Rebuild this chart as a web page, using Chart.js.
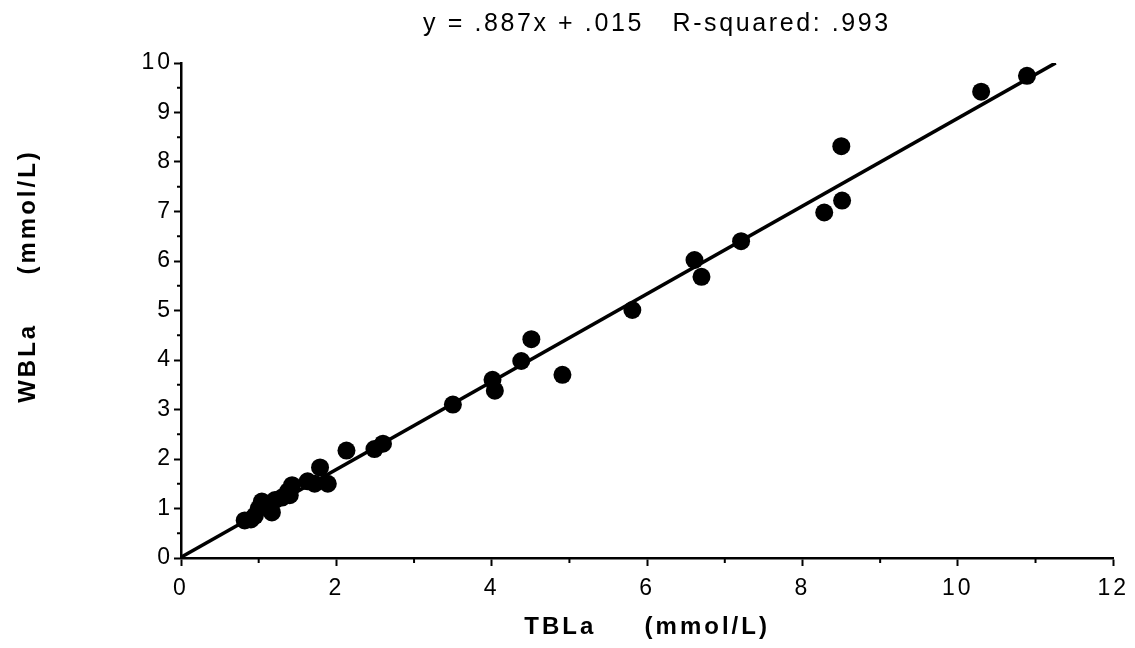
<!DOCTYPE html>
<html>
<head>
<meta charset="utf-8">
<script src="https://cdn.jsdelivr.net/npm/chart.js@4/dist/chart.umd.min.js"></script>
<style>
  html, body { margin: 0; padding: 0; background: #fff; }
  #wrap { width: 1135px; height: 648px; }
</style>
</head>
<body>
<div id="wrap"><canvas id="c" width="1135" height="648"></canvas></div>
<script>
// ---- data ----
const tbla = [0.82, 0.90, 0.95, 1.00, 1.04, 1.10, 1.17, 1.21, 1.30, 1.38, 1.43, 1.40, 1.63, 1.72, 1.79, 1.89,
              2.13, 2.49, 2.60, 3.50, 4.01, 4.04, 4.38, 4.51, 4.91, 5.81, 6.61, 6.70, 7.21, 8.28, 8.51, 8.50, 10.30, 10.89];
const wbla = [0.76, 0.78, 0.85, 1.00, 1.14, 1.10, 0.92, 1.17, 1.22, 1.35, 1.47, 1.27, 1.55, 1.50, 1.83, 1.50,
              2.17, 2.20, 2.31, 3.10, 3.60, 3.38, 3.98, 4.42, 3.70, 5.01, 6.02, 5.68, 6.40, 6.98, 7.22, 8.32, 9.42, 9.74];
const slope = 0.887;
const intercept = 0.015;
const fitXs = [0, 11.26];
const xTicks = [0, 2, 4, 6, 8, 10, 12];
const yTicks = [0, 1, 2, 3, 4, 5, 6, 7, 8, 9, 10];
const titleText = 'y = .887x + .015   R-squared: .993';
const xTitle = 'TBLa     (mmol/L)';
const yTitle = 'WBLa     (mmol/L)';

const points = tbla.map((x, i) => ({ x: x, y: wbla[i] }));
const fitLine = fitXs.map(x => ({ x: x, y: slope * x + intercept }));

const FONT = "'Liberation Sans', Arial, Helvetica, sans-serif";

const spacingPlugin = {
  id: 'spacing',
  beforeDraw(chart) { chart.ctx.letterSpacing = '3px'; },
  afterDraw(chart) {
    const ctx = chart.ctx;
    const xs = chart.scales.x, ys = chart.scales.y;
    ctx.save();
    ctx.strokeStyle = '#000';
    ctx.lineWidth = 2;
    // minor ticks x (odd)
    for (let v = 1; v < 12; v += 2) {
      const px = xs.getPixelForValue(v);
      ctx.beginPath(); ctx.moveTo(px, ys.bottom); ctx.lineTo(px, ys.bottom + 5); ctx.stroke();
    }
    // minor ticks y (halves)
    for (let v = 0.5; v < 10; v += 1) {
      const py = ys.getPixelForValue(v);
      ctx.beginPath(); ctx.moveTo(xs.left, py); ctx.lineTo(xs.left - 4, py); ctx.stroke();
    }
    // title
    ctx.fillStyle = '#000';
    ctx.font = "25px " + FONT;
    ctx.letterSpacing = '2.6px';
    ctx.textAlign = 'left';
    ctx.textBaseline = 'alphabetic';
    ctx.fillText(titleText, 423, 31);
    // y axis title
    ctx.font = "bold 24px " + FONT;
    ctx.letterSpacing = '3px';
    ctx.textAlign = 'center';
    ctx.textBaseline = 'middle';
    ctx.translate(28, 276);
    ctx.rotate(-Math.PI / 2);
    ctx.fillText(yTitle, 0, 0);
    ctx.restore();
  }
};

new Chart(document.getElementById('c'), {
  data: {
    datasets: [
      {
        type: 'scatter',
        data: points,
        backgroundColor: '#000',
        borderColor: '#000',
        pointRadius: 9,
        pointHoverRadius: 9,
        borderWidth: 0
      },
      {
        type: 'line',
        data: fitLine,
        borderColor: '#000',
        borderWidth: 3.5,
        pointRadius: 0,
        fill: false,
        tension: 0
      }
    ]
  },
  options: {
    responsive: false,
    animation: false,
    events: [],
    layout: { padding: { top: 63, right: 20, left: 0, bottom: 0 } },
    plugins: { legend: { display: false }, tooltip: { enabled: false }, title: { display: false } },
    scales: {
      x: {
        type: 'linear',
        min: 0, max: 12,
        afterFit(s) { s.height = 90; },
        afterBuildTicks(s) { s.ticks = xTicks.map(v => ({ value: v })); },
        ticks: { color: '#000', font: { family: FONT, size: 23 }, padding: 9, maxRotation: 0 },
        grid: { display: true, drawOnChartArea: false, drawTicks: true, tickLength: 8, tickWidth: 2, tickColor: '#000' },
        border: { display: true, color: '#000', width: 2.5 },
        title: { display: true, text: xTitle, color: '#000', font: { family: FONT, size: 24, weight: 'bold' }, padding: { top: 0, bottom: 6 } }
      },
      y: {
        type: 'linear',
        min: 0, max: 10,
        afterFit(s) { s.width = 181; },
        afterBuildTicks(s) { s.ticks = yTicks.map(v => ({ value: v })); },
        ticks: { color: '#000', font: { family: FONT, size: 23 }, padding: 1 },
        grid: { display: true, drawOnChartArea: false, drawTicks: true, tickLength: 7, tickWidth: 2, tickColor: '#000' },
        border: { display: true, color: '#000', width: 2.5 },
        title: { display: false }
      }
    }
  },
  plugins: [spacingPlugin]
});
</script>
</body>
</html>
